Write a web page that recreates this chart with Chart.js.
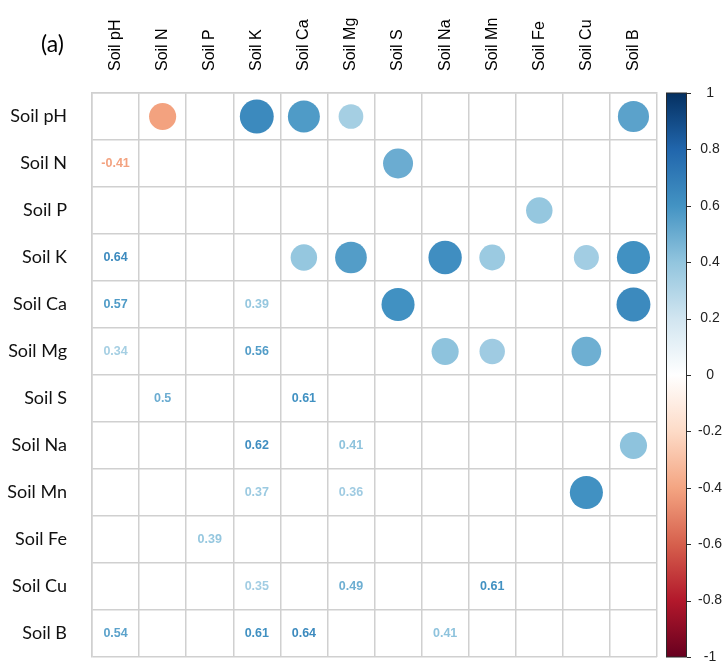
<!DOCTYPE html>
<html>
<head>
<meta charset="utf-8">
<script src="https://cdn.jsdelivr.net/npm/chart.js@4/dist/chart.umd.min.js"></script>
<style>
  html, body { margin: 0; padding: 0; background: #ffffff; }
  #wrap { width: 727px; height: 670px; }
</style>
</head>
<body>
<div id="wrap"><canvas id="corr" width="727" height="670"></canvas></div>
<script>
// Soil variables, in matrix order
const variables = ['Soil pH', 'Soil N', 'Soil P', 'Soil K', 'Soil Ca', 'Soil Mg',
                   'Soil S', 'Soil Na', 'Soil Mn', 'Soil Fe', 'Soil Cu', 'Soil B'];

// Significant correlations (lower triangle: row variable vs column variable)
const pairRow = ['Soil N', 'Soil K', 'Soil Ca', 'Soil Ca', 'Soil Mg', 'Soil Mg', 'Soil S', 'Soil S',
                 'Soil Na', 'Soil Na', 'Soil Mn', 'Soil Mn', 'Soil Fe', 'Soil Cu', 'Soil Cu', 'Soil Cu',
                 'Soil B', 'Soil B', 'Soil B', 'Soil B'];
const pairCol = ['Soil pH', 'Soil pH', 'Soil pH', 'Soil K', 'Soil pH', 'Soil K', 'Soil N', 'Soil Ca',
                 'Soil K', 'Soil Mg', 'Soil K', 'Soil Mg', 'Soil P', 'Soil K', 'Soil Mg', 'Soil Mn',
                 'Soil pH', 'Soil K', 'Soil Ca', 'Soil Na'];
const pairR   = [-0.41, 0.64, 0.57, 0.39, 0.34, 0.56, 0.5, 0.61,
                 0.62, 0.41, 0.37, 0.36, 0.39, 0.35, 0.49, 0.61,
                 0.54, 0.61, 0.64, 0.41];

// Colour bar tick values
const colorbarTicks = [-1, -0.8, -0.6, -0.4, -0.2, 0, 0.2, 0.4, 0.6, 0.8, 1];

// Diverging red-blue palette, evenly spaced from -1 to 1
const palette = ['#67001F', '#B2182B', '#D6604D', '#F4A582', '#FDDBC7', '#FFFFFF',
                 '#D1E5F0', '#92C5DE', '#4393C3', '#2166AC', '#053061'];

function hexToRgb(h) {
  const n = parseInt(h.slice(1), 16);
  return [(n >> 16) & 255, (n >> 8) & 255, n & 255];
}
function colorFor(v) {
  const t = (Math.max(-1, Math.min(1, v)) + 1) / 2 * (palette.length - 1);
  const i = Math.min(palette.length - 2, Math.floor(t));
  const f = t - i;
  const a = hexToRgb(palette[i]), b = hexToRgb(palette[i + 1]);
  const c = a.map((x, k) => Math.round(x + (b[k] - x) * f));
  return 'rgb(' + c.join(',') + ')';
}

// Upper triangle: circles (mirror of the lower-triangle pairs)
const circlePoints = pairR.map((r, i) => ({ x: pairRow[i], y: pairCol[i], v: r }));

const GRID = '#d0d0d0';
const COL_FONT_SIZE = 16;

function circleRadius(c) {
  const xs = c.chart.scales.x;
  const cell = xs.width / variables.length;
  const v = c.raw ? c.raw.v : 0;
  return 0.45 * cell * Math.sqrt(Math.abs(v));
}

// keep the axes' label padding from shrinking the plot vertically
function noVerticalPadding(s) { s.paddingTop = 0; s.paddingBottom = 0; }

const overlay = {
  id: 'overlay',
  afterDatasetsDraw(chart) {
    const ctx = chart.ctx;
    const xs = chart.scales.x, ys = chart.scales.y;
    // Lower triangle: coefficient text
    ctx.save();
    ctx.font = 'bold 12.5px "Liberation Sans", Arial, sans-serif';
    ctx.textAlign = 'center';
    ctx.textBaseline = 'middle';
    pairR.forEach((r, i) => {
      const px = xs.getPixelForValue(variables.indexOf(pairCol[i]));
      const py = ys.getPixelForValue(variables.indexOf(pairRow[i]));
      ctx.fillStyle = colorFor(r);
      ctx.fillText(String(r), px, py);
    });
    ctx.restore();
  },
  afterDraw(chart) {
    const ctx = chart.ctx;
    const cb = chart.scales.cb;
    const top = cb.getPixelForValue(1), bottom = cb.getPixelForValue(-1);
    const x0 = cb.left + 9, w = 21;
    ctx.save();
    const g = ctx.createLinearGradient(0, top, 0, bottom);
    palette.slice().reverse().forEach((c, i) => g.addColorStop(i / (palette.length - 1), c));
    ctx.fillStyle = g;
    ctx.fillRect(x0, top, w, bottom - top);
    ctx.strokeStyle = '#2b2b2b';
    ctx.lineWidth = 1;
    ctx.strokeRect(x0 + 0.5, top, w - 1, bottom - top);
    // tick marks on the right side of the bar
    ctx.beginPath();
    colorbarTicks.forEach(v => {
      const y = Math.round(cb.getPixelForValue(v)) + 0.5;
      ctx.moveTo(x0 + w, y);
      ctx.lineTo(x0 + w + 4, y);
    });
    ctx.stroke();
    // panel tag
    ctx.fillStyle = '#000000';
    ctx.font = '23px Lato, "Open Sans", sans-serif';
    ctx.textAlign = 'left';
    ctx.textBaseline = 'middle';
    ctx.fillText('(a)', 41, 45);
    ctx.restore();
  }
};

new Chart(document.getElementById('corr'), {
  type: 'scatter',
  data: {
    datasets: [{
      data: circlePoints,
      pointStyle: 'circle',
      borderWidth: 0,
      pointRadius: circleRadius,
      pointHoverRadius: circleRadius,
      backgroundColor: (c) => colorFor(c.raw ? c.raw.v : 0)
    }]
  },
  options: {
    responsive: false,
    animation: false,
    events: [],
    layout: { padding: { top: 0, bottom: 13, left: 0, right: 0 } },
    plugins: { legend: { display: false }, tooltip: { enabled: false } },
    scales: {
      x: {
        type: 'category',
        labels: variables,
        position: 'top',
        offset: true,
        grid: { offset: true, color: GRID, lineWidth: 1.5, drawTicks: false },
        border: { color: GRID, width: 1.5 },
        ticks: {
          autoSkip: false, minRotation: 90, maxRotation: 90, padding: 22,
          // centre the rotated labels over their columns
          labelOffset: COL_FONT_SIZE * 1.2,
          color: '#000000',
          font: { family: '"Liberation Sans", Arial, sans-serif', size: COL_FONT_SIZE }
        },
        afterFit: (s) => { s.height = 93; }
      },
      y: {
        type: 'category',
        labels: variables,
        position: 'left',
        offset: true,
        grid: { offset: true, color: GRID, lineWidth: 1.5, drawTicks: false },
        border: { color: GRID, width: 1.5 },
        ticks: {
          autoSkip: false, padding: 25,
          color: '#111111',
          font: { family: 'Lato, "Open Sans", sans-serif', size: 18 }
        },
        afterFit: (s) => { s.width = 92; noVerticalPadding(s); }
      },
      cb: {
        type: 'linear',
        position: 'right',
        min: -1, max: 1,
        grid: { display: false, drawTicks: false },
        border: { display: false },
        ticks: {
          stepSize: 0.2,
          crossAlign: 'center',
          padding: 41,
          color: '#222222',
          font: { family: '"Liberation Sans", Arial, sans-serif', size: 14 },
          callback: (v) => String(Math.round(v * 10) / 10)
        },
        afterFit: (s) => { s.width = 70; noVerticalPadding(s); }
      }
    }
  },
  plugins: [overlay]
});
</script>
</body>
</html>
